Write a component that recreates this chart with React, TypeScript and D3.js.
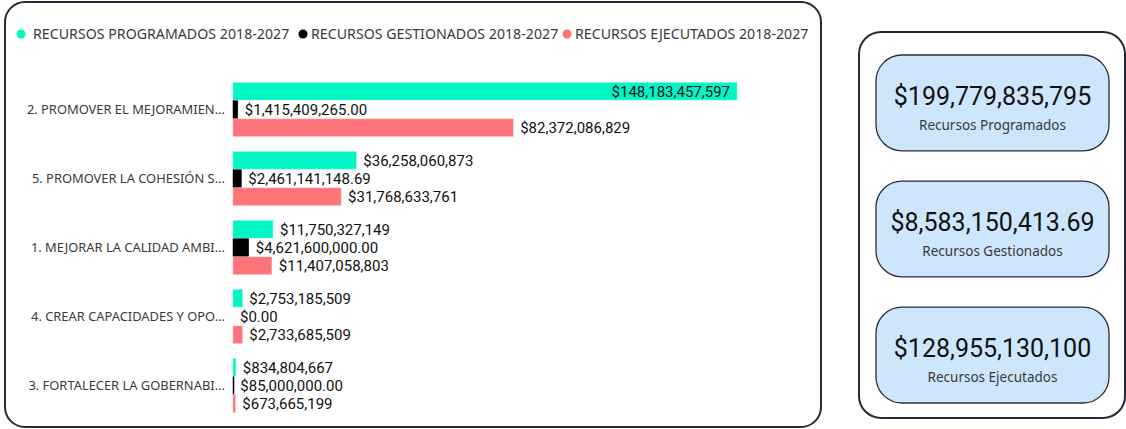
import React from "react";
import * as d3 from "d3";

const categories = [
  "2. PROMOVER EL MEJORAMIEN...",
  "5. PROMOVER LA COHESIÓN S...",
  "1. MEJORAR LA CALIDAD AMBI...",
  "4. CREAR CAPACIDADES Y OPO...",
  "3. FORTALECER LA GOBERNABI...",
];

const programados = [148183457597, 36258060873, 11750327149, 2753185509, 834804667];
const gestionados = [1415409265.0, 2461141148.69, 4621600000.0, 0, 85000000.0];
const ejecutados = [82372086829, 31768633761, 11407058803, 2733685509, 673665199];

const seriesNames = [
  "RECURSOS PROGRAMADOS 2018-2027",
  "RECURSOS GESTIONADOS 2018-2027",
  "RECURSOS EJECUTADOS 2018-2027",
];
const seriesColors = ["#01f5c5", "#000000", "#fe7479"];
const seriesStroke = ["#7ff9df", "#000000", "#ffb0b3"];

const cardValues = ["$199,779,835,795", "$8,583,150,413.69", "$128,955,130,100"];
const cardLabels = ["Recursos Programados", "Recursos Gestionados", "Recursos Ejecutados"];

const fmt0 = d3.format("$,.0f");
const fmt2 = d3.format("$,.2f");

const W = 1126;
const H = 429;
const labelFont = "'Noto Sans', 'Open Sans', sans-serif";
const valueFont = "Roboto, 'DejaVu Sans', sans-serif";

const App = () => {
  const series = [programados, gestionados, ejecutados];
  const formats = [fmt0, fmt2, fmt0];

  const x = d3.scaleLinear().domain([0, d3.max(programados) as number]).range([233, 737]);
  const y = d3.scaleBand().domain(categories).range([75, 420]).paddingInner(0.22).paddingOuter(0.11);
  const ySub = d3.scaleBand().domain(["0", "1", "2"]).range([0, y.bandwidth()]).paddingInner(0.04);

  // legend layout (dot x, text x)
  const legendDot = [21, 303, 567];
  const legendText = [33, 311, 575];

  // kpi cards
  const cardY = d3.scaleBand().domain(["0", "1", "2"]).range([55, 403]).paddingInner(0.24).paddingOuter(0);

  return (
    <svg width={W} height={H} style={{ display: "block", background: "#fff" }}>
      <style>{`body{margin:0}`}</style>
      {/* left panel */}
      <rect x={5} y={2} width={816} height={425} rx={20} fill="#fff" stroke="#252a3a" strokeWidth={2} />
      {/* legend */}
      {seriesNames.map((name, i) => (
        <g key={name}>
          <circle cx={legendDot[i]} cy={34} r={4.5} fill={seriesColors[i]} />
          <text x={legendText[i]} y={34} dy="0.35em" fontFamily={labelFont} fontSize={14.2} fill="#3a3a3a">
            {name}
          </text>
        </g>
      ))}
      {/* categories */}
      {categories.map((c, ci) => {
        const y0 = y(c) as number;
        return (
          <g key={c}>
            <text
              x={225}
              y={y0 + y.bandwidth() / 2}
              dy="0.35em"
              textAnchor="end"
              fontFamily={labelFont}
              fontSize={12.9}
              fill="#3a3a3a"
            >
              {c}
            </text>
            {series.map((vals, si) => {
              const v = vals[ci];
              const by = y0 + (ySub(String(si)) as number);
              const bw = x(v) - x(0);
              const label = formats[si](v);
              const inside = bw > 400;
              return (
                <g key={si}>
                  {v > 0 && (
                    <rect
                      x={x(0)}
                      y={by}
                      width={Math.max(bw, 1)}
                      height={ySub.bandwidth()}
                      fill={seriesColors[si]}
                      stroke={seriesStroke[si]}
                      strokeWidth={0.5}
                    />
                  )}
                  <text
                    x={inside ? x(v) - 7 : x(v) + 7}
                    y={by + ySub.bandwidth() / 2}
                    dy="0.36em"
                    textAnchor={inside ? "end" : "start"}
                    fontFamily={valueFont}
                    fontSize={15}
                    fill="#111"
                  >
                    {label}
                  </text>
                </g>
              );
            })}
          </g>
        );
      })}
      {/* right panel */}
      <rect x={859} y={32} width={266} height={386} rx={22} fill="#fff" stroke="#252a3a" strokeWidth={2} />
      {cardValues.map((v, i) => {
        const cy = cardY(String(i)) as number;
        const ch = cardY.bandwidth();
        const mid = cy + ch / 2;
        return (
          <g key={v}>
            <rect x={876} y={cy} width={233} height={ch} rx={26} fill="#cde6fb" stroke="#2a2d38" strokeWidth={1.3} />
            <text x={992.5} y={mid + 2} textAnchor="middle" fontFamily={valueFont} fontSize={25} fill="#111">
              {v}
            </text>
            <text x={992.5} y={mid + 27} textAnchor="middle" fontFamily={labelFont} fontSize={13.5} fill="#3a3a3a">
              {cardLabels[i]}
            </text>
          </g>
        );
      })}
    </svg>
  );
};

export default App;
